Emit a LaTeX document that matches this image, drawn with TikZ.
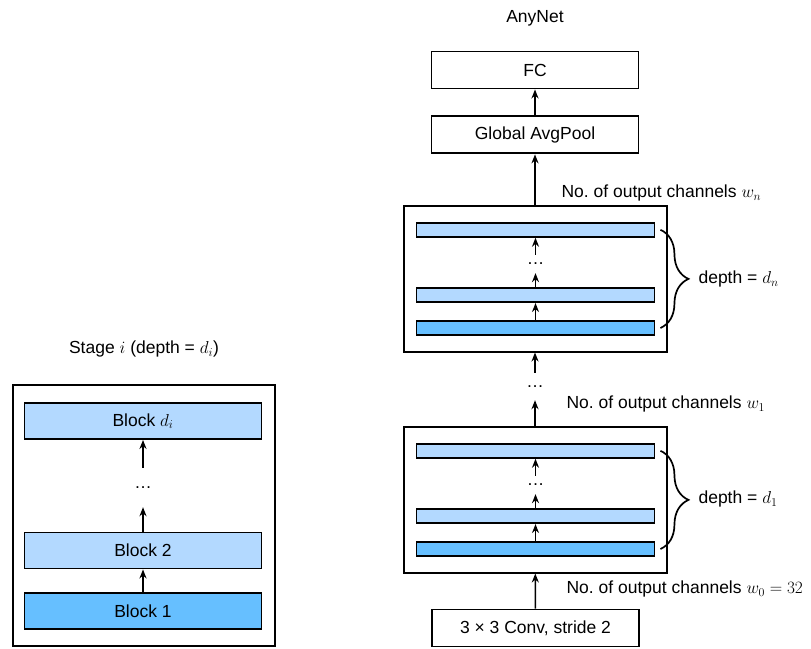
\documentclass[tikz,border=0pt]{standalone}
\usepackage{fontspec}
\setmainfont{Liberation Sans}
\usepackage{tikz}
\usetikzlibrary{positioning,arrows.meta,decorations.pathreplacing}
\definecolor{liteblue}{HTML}{B3D9FF}
\definecolor{darkblue}{HTML}{66BFFF}
\frenchspacing

\begin{document}
\begin{tikzpicture}[
  x=1pt, y=-1pt,
  font=\fontsize{17.5}{21}\selectfont,
  blk/.style={draw, line width=1.9pt, minimum width=237pt, minimum height=36pt, inner sep=0pt},
  bar/.style={draw, line width=1.9pt, minimum width=238pt, minimum height=14pt, inner sep=0pt},
  stg/.style={draw, line width=2pt, minimum width=263pt, minimum height=146pt, inner sep=0pt},
  plain/.style={draw, line width=1.9pt, minimum width=207pt, minimum height=37pt, inner sep=0pt},
  gap/.style={inner sep=0pt, minimum width=20pt},
  arr/.style={-{Stealth[length=9pt,width=7pt]}, line width=1.5pt},
  brc/.style={decorate, decoration={brace, amplitude=28pt}, line width=1.7pt}
]
\useasboundingbox (0,0) rectangle (811,648);

\node (stagetitle) at (144,349) {Stage $i$ (depth = $d_i$)};
\node[draw, line width=2pt, minimum width=262pt, minimum height=261pt] (stage) at (143.5,515) {};
\node[blk, fill=liteblue] (blkd) at (143,421) {Block $d_i$};
\node[blk, fill=liteblue] (blk2) at (143,550.5) {Block 2};
\node[blk, fill=darkblue] (blk1) at (143,611) {Block 1};
\node[gap, minimum height=39pt] (ldots) at (143,487.5) {\ldots};

\draw[arr] (blk1) -- (blk2);
\draw[arr] (blk2) -- (ldots);
\draw[arr] (ldots) -- (blkd);

\node (anytitle) at (535,18) {AnyNet};
\node[plain] (fc) at (535,70) {FC};
\node[plain, below=26pt of fc] (gpool) {Global AvgPool};

\node[stg] (stagen) at (535,278.5) {};
\node[bar, fill=darkblue] (botn) at (535.5,328) {};
\node[bar, fill=liteblue, above=17pt of botn] (midn) {};
\node[gap, minimum height=18pt, above=14pt of midn] (dotsn) {\ldots};
\node[bar, fill=liteblue, above=17pt of dotsn] (topn) {};

\node[gap, minimum height=27pt] (dotsm) at (535,386.5) {\ldots};

\node[stg] (stage1) at (535,499.5) {};
\node[bar, fill=darkblue] (bot1) at (535.5,549) {};
\node[bar, fill=liteblue, above=17pt of bot1] (mid1) {};
\node[gap, minimum height=18pt, above=14pt of mid1] (dots1) {\ldots};
\node[bar, fill=liteblue, above=17pt of dots1] (top1) {};

\node[plain] (conv) at (535.5,628) {3 × 3 Conv, stride 2};

\node[anchor=west] (wn) at (558,193) {No. of output channels $w_n$};
\node[anchor=west] (w1) at (563,404) {No. of output channels $w_1$};
\node[anchor=west] (w0) at (563,589) {No. of output channels $w_0 = 32$};
\node[anchor=west] (dn) at (695,279) {depth = $d_n$};
\node[anchor=west] (d1) at (695,499) {depth = $d_1$};

\draw[arr] (gpool) -- (fc);
\draw[arr] (stagen) -- (gpool);
\draw[arr] (botn) -- (midn);
\draw[arr] (midn) -- (dotsn);
\draw[arr] (dotsn) -- (topn);
\draw[arr] (dotsm) -- (stagen);
\draw[arr] (stage1) -- (dotsm);
\draw[arr] (bot1) -- (mid1);
\draw[arr] (mid1) -- (dots1);
\draw[arr] (dots1) -- (top1);
\draw[arr] (conv) -- (stage1);

\draw[brc] ([xshift=5pt]topn.east) -- ([xshift=5pt]botn.east);
\draw[brc] ([xshift=5pt]top1.east) -- ([xshift=5pt]bot1.east);
\end{tikzpicture}
\end{document}
